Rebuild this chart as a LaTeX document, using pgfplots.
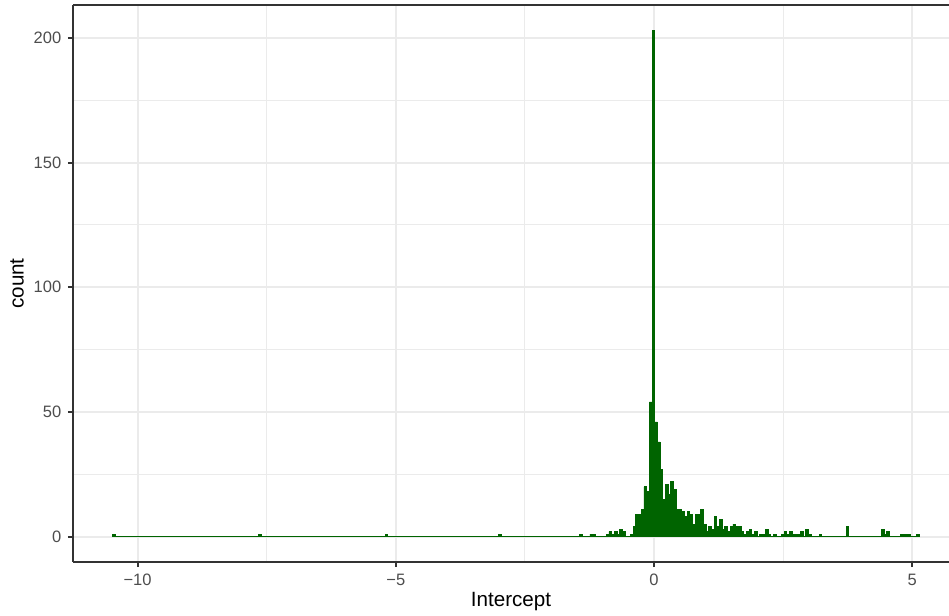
\documentclass[border=0pt]{standalone}
\usepackage{pgfplots}
\usepackage{pgfplotstable}
\pgfplotsset{compat=1.18}
\usepackage{fontspec}
\setmainfont{Liberation Sans}
\definecolor{dkgreen}{HTML}{006400}
\definecolor{gray92}{HTML}{EBEBEB}
\definecolor{gray20}{HTML}{333333}
\definecolor{gray30}{HTML}{4D4D4D}
\pgfplotstableread{
x n
-10.454 1
-7.635 1
-5.182 1
-2.989 1
-1.423 1
-1.215 1
-1.162 1
-0.901 1
-0.849 2
-0.797 1
-0.745 2
-0.693 1
-0.640 3
-0.588 2
-0.432 1
-0.379 4
-0.327 9
-0.275 9
-0.223 11
-0.171 20
-0.118 18
-0.066 54
-0.014 203
0.038 46
0.090 38
0.143 27
0.195 15
0.247 21
0.299 17
0.351 22
0.404 19
0.456 11
0.508 11
0.560 10
0.612 8
0.665 10
0.717 9
0.769 5
0.821 9
0.873 9
0.926 11
0.978 5
1.030 2
1.082 4
1.134 3
1.187 8
1.239 4
1.291 7
1.343 3
1.395 4
1.448 2
1.500 4
1.552 5
1.604 4
1.656 4
1.709 2
1.761 1
1.813 2
1.865 3
1.917 1
1.970 2
2.074 1
2.126 1
2.178 3
2.231 1
2.335 1
2.492 1
2.544 2
2.596 1
2.648 2
2.700 1
2.753 1
2.805 1
2.857 2
2.961 3
3.014 1
3.222 1
3.744 4
4.423 3
4.475 1
4.527 2
4.788 1
4.840 1
4.893 1
4.945 1
5.101 1
}\histdata
\begin{document}
\begin{tikzpicture}
\begin{axis}[
  scale only axis,
  width=467.0pt, height=296.9pt,
  xmin=-11.25, xmax=5.71,
  ymin=-10.15, ymax=213.15,
  axis lines*=left,
  axis line style={-, gray20, line width=1.07pt},
  clip mode=individual,
  xtick={-10,-5,0,5},
  xticklabels={−10,−5,0,5},
  ytick={0,50,100,150,200},
  yticklabels={0,50,100,150,200},
  minor xtick={-7.5,-2.5,2.5},
  minor ytick={25,75,125,175},
  grid=both,
  major grid style={gray92, line width=1.07pt},
  minor grid style={gray92, line width=0.53pt},
  tick align=outside,
  major tick length=2.75pt,
  minor tick length=0pt,
  major tick style={gray20, line width=1.07pt},
  tick label style={font=\fontsize{8.8}{10}\selectfont, text=gray30},
  label style={font=\fontsize{11}{13}\selectfont, text=black},
  xlabel={Intercept},
  ylabel={count},
  xlabel style={at={(axis description cs:0.5,-0.0808)}, anchor=base},
  ylabel style={at={(axis description cs:-0.064,0.5)}, anchor=center},
]
\addplot[dkgreen, line width=0.8pt] coordinates {(-10.48,0) (5.127,0)};
\addplot[ybar, bar width=0.0522, fill=dkgreen, draw=dkgreen, line width=0.4pt] table[x=x, y=n] {\histdata};
\draw[gray20, line width=1.07pt] (rel axis cs:0,1) -- (rel axis cs:1.02,1);
\end{axis}
\pgfresetboundingbox
\useasboundingbox (-38.92pt,-28.79pt) rectangle (467.0pt,299.6pt);
\end{tikzpicture}
\end{document}
